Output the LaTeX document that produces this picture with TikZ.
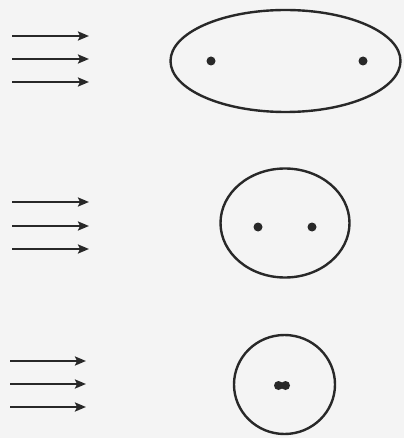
\documentclass[tikz,border=0pt]{standalone}
\usetikzlibrary{arrows.meta,shapes.geometric}
\definecolor{bg}{RGB}{244,244,244}
\definecolor{ink}{RGB}{40,40,40}
\begin{document}
\begin{tikzpicture}[x=1pt,y=-1pt,
  ring/.style={draw=ink,line width=2.4pt,ellipse,inner sep=0pt},
  flow/.style={draw=ink,line width=2.6pt,-{Stealth[length=11pt,width=9pt,inset=2pt]}},
  dot/.style={circle,fill=ink,inner sep=0pt,minimum size=9pt}]
\fill[bg] (0,0) rectangle (404,438);
\useasboundingbox (0,0) rectangle (404,438);
% row 1
\foreach \y [count=\i] in {36,59,82}{
  \coordinate (a1s\i) at (12,\y); \coordinate (a1e\i) at (89,\y);
  \draw[flow] (a1s\i) -- (a1e\i);}
\node[ring,minimum width=230pt,minimum height=102pt] (e1) at (285.5,61) {};
\node[dot] (d1a) at (211,61) {};
\node[dot] (d1b) at (363,61) {};
% row 2
\foreach \y [count=\i] in {202,226,249}{
  \coordinate (a2s\i) at (12,\y); \coordinate (a2e\i) at (89,\y);
  \draw[flow] (a2s\i) -- (a2e\i);}
\node[ring,minimum width=129pt,minimum height=109pt] (e2) at (285,223) {};
\node[dot] (d2a) at (258,227) {};
\node[dot] (d2b) at (312,227) {};
% row 3
\foreach \y [count=\i] in {361,384,407}{
  \coordinate (a3s\i) at (10,\y); \coordinate (a3e\i) at (86,\y);
  \draw[flow] (a3s\i) -- (a3e\i);}
\node[ring,minimum width=101pt,minimum height=99pt] (e3) at (284.5,384.5) {};
\node[dot] (d3a) at (278.5,385.5) {};
\node[dot] (d3b) at (285.5,385.5) {};
\end{tikzpicture}
\end{document}
